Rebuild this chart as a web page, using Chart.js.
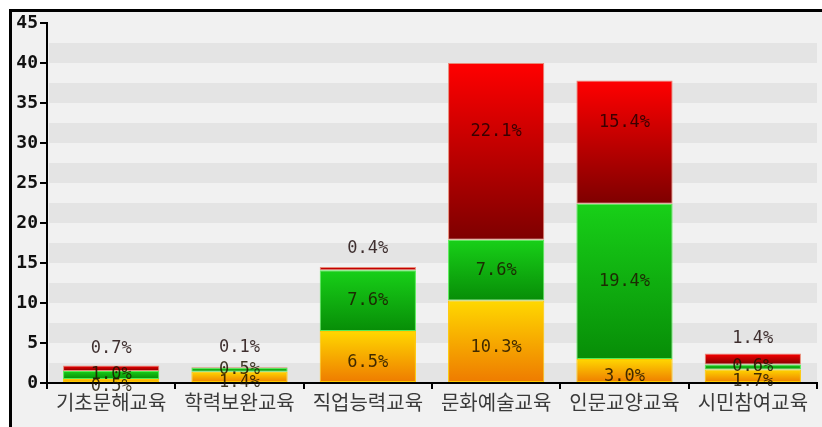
<!DOCTYPE html>
<html>
<head>
<meta charset="utf-8">
<script src="https://cdn.jsdelivr.net/npm/chart.js@4.4.0/dist/chart.umd.min.js"></script>
<style>
  html, body { margin:0; padding:0; width:822px; height:427px; overflow:hidden; background:#fff; }
  #frame { position:absolute; left:9px; top:9px; width:900px; height:500px; border-top:3px solid #000; border-left:3px solid #000; background:#f1f1f1; }
  #c { position:absolute; left:0; top:0; }
</style>
</head>
<body>
<div id="frame"></div>
<canvas id="c" width="822" height="427"></canvas>
<script>
const categories = ['기초문해교육','학력보완교육','직업능력교육','문화예술교육','인문교양교육','시민참여교육'];
const orangeValues = [0.5, 1.4, 6.5, 10.3, 3.0, 1.7];
const greenValues  = [1.0, 0.5, 7.6, 7.6, 19.4, 0.6];
const redValues    = [0.7, 0.1, 0.4, 22.1, 15.4, 1.4];
const yMin = 0, yMax = 45, yStep = 5;

const allSeries = [orangeValues, greenValues, redValues];
const gradStops = [
  ['#ffd800', '#ee7a00'],
  ['#18d018', '#078d07'],
  ['#ff0000', '#7e0000']
];
const borderCols = ['#ffc800', '#55ee55', '#e88a78'];
const labelOffsets = [6, 0, -20];

function segGradient(ctx, dsIndex) {
  const chart = ctx.chart;
  const y = chart.scales && chart.scales.y;
  if (!y || ctx.dataIndex === undefined) return gradStops[dsIndex][0];
  let start = 0;
  for (let k = 0; k < dsIndex; k++) start += allSeries[k][ctx.dataIndex];
  const end = start + allSeries[dsIndex][ctx.dataIndex];
  const yTop = y.getPixelForValue(end), yBot = y.getPixelForValue(start);
  if (!isFinite(yTop) || !isFinite(yBot) || yTop === yBot) return gradStops[dsIndex][0];
  const g = chart.ctx.createLinearGradient(0, yTop, 0, yBot);
  g.addColorStop(0, gradStops[dsIndex][0]);
  g.addColorStop(1, gradStops[dsIndex][1]);
  return g;
}

const bandPlugin = {
  id: 'bands',
  beforeDraw(chart) {
    const {ctx, chartArea, scales:{y}} = chart;
    ctx.save();
    for (let v = yMin; v < yMax; v += yStep) {
      const t = y.getPixelForValue(v + yStep / 2), b = y.getPixelForValue(v);
      ctx.fillStyle = '#e4e4e4';
      ctx.fillRect(chartArea.left + 2, t, chartArea.right - chartArea.left - 2, b - t);
    }
    ctx.restore();
  }
};

const labelPlugin = {
  id: 'segLabels',
  afterDatasetsDraw(chart) {
    const ctx = chart.ctx;
    ctx.save();
    ctx.font = '17px "DejaVu Sans Mono"';
    ctx.textAlign = 'center';
    ctx.textBaseline = 'middle';
    chart.data.datasets.forEach((ds, di) => {
      const meta = chart.getDatasetMeta(di);
      meta.data.forEach((el, i) => {
        const v = ds.data[i];
        const yc = (el.y + el.base) / 2 + labelOffsets[di];
        ctx.fillStyle = di === 2 ? 'rgba(20,0,0,0.8)' : 'rgba(30,20,0,0.85)';
        ctx.fillText(v.toFixed(1) + '%', el.x, yc);
      });
    });
    ctx.restore();
  }
};

const names = ['A', 'B', 'C'];
new Chart(document.getElementById('c'), {
  type: 'bar',
  data: {
    labels: categories,
    datasets: allSeries.map((arr, di) => ({
      label: names[di],
      data: arr,
      backgroundColor: (ctx) => segGradient(ctx, di),
      borderColor: borderCols[di],
      borderWidth: 1,
      borderSkipped: false,
      categoryPercentage: 1.0,
      barPercentage: 0.75
    }))
  },
  options: {
    responsive: false,
    animation: false,
    devicePixelRatio: 1,
    layout: { padding: { left: 0, right: 5, top: 23, bottom: 0 } },
    plugins: { legend: { display: false }, tooltip: { enabled: false } },
    scales: {
      x: {
        stacked: true,
        grid: { offset: true, drawOnChartArea: false, tickLength: 6, color: '#000', lineWidth: 2 },
        border: { color: '#000', width: 2 },
        ticks: { color: '#3a3a3a', font: { family: '"Noto Sans CJK KR"', size: 20 }, padding: 1, maxRotation: 0 },
        afterFit(s) { s.height = 44; }
      },
      y: {
        stacked: true,
        min: yMin, max: yMax,
        grid: { drawOnChartArea: false, tickLength: 7, color: '#000', lineWidth: 2 },
        border: { color: '#000', width: 2 },
        ticks: { stepSize: yStep, color: '#111', font: { family: '"DejaVu Sans Mono"', size: 18, weight: 'bold' }, padding: 2 },
        afterFit(s) { s.width = 47; }
      }
    }
  },
  plugins: [bandPlugin, labelPlugin]
});
</script>
</body>
</html>
